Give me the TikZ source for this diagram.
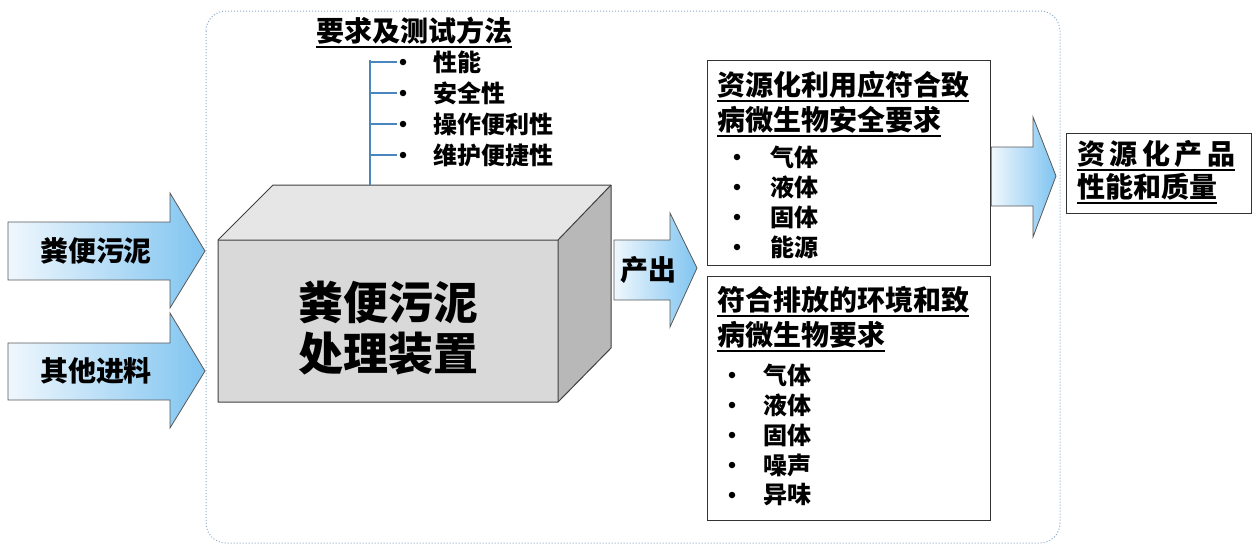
\documentclass[tikz,border=0pt]{standalone}
\usepackage{fontspec}
\setmainfont{Noto Sans CJK SC}
\definecolor{arrowL}{HTML}{F0F7FD}
\definecolor{arrowR}{HTML}{7FC4F0}
\definecolor{framecol}{HTML}{8AA9C6}
\definecolor{treeblue}{HTML}{4A86BE}
\definecolor{frontgray}{HTML}{D9D9D9}
\definecolor{topgray}{HTML}{E6E6E6}
\definecolor{sidegray}{HTML}{B8B8B8}
\newcommand\myul[1]{\setbox0\hbox{#1}\rlap{\rule[-6.5pt]{\wd0}{2pt}}\box0}
\tikzset{
  big/.style={inner sep=0pt, font=\bfseries\fontsize{28}{34}\selectfont},
  itm/.style={inner sep=0pt, anchor=west, font=\bfseries\fontsize{24}{28}\selectfont},
  bul/.style={circle, fill=black, inner sep=0pt, minimum size=6.5pt},
  fatarrow/.style={draw=black!65, line width=0.8pt, left color=arrowL, right color=arrowR},
  outbox/.style={draw=black!80, line width=1.2pt, fill=white},
  cube/.style={draw=black!75, line width=1pt, line join=round},
  branch/.style={draw=treeblue, line width=1.2pt},
}
\begin{document}
\begin{tikzpicture}[x=1pt,y=-1pt]
\useasboundingbox (0,0) rectangle (1254,547);
% outer frame
\draw[framecol, dotted, line width=1pt, rounded corners=20pt] (206,11) rectangle (1060,543);

% input arrows
\draw[fatarrow] (8,222) -- (170,222) -- (170,193) -- (205,251) -- (170,308) -- (170,280) -- (8,280) -- cycle;
\node[big] (in1) at (96,251) {粪便污泥};
\draw[fatarrow] (8,343) -- (170,343) -- (170,313) -- (205,371) -- (170,428) -- (170,400) -- (8,400) -- cycle;
\node[big] (in2) at (96,371) {其他进料};

% cube
\coordinate (fTL) at (218,240);
\coordinate (fTR) at (558,240);
\coordinate (fBR) at (558,402);
\coordinate (fBL) at (218,402);
\coordinate (bTL) at (273,185);
\coordinate (bTR) at (611,185);
\coordinate (bBR) at (611,348);
\fill[topgray] (fTL) -- (bTL) -- (bTR) -- (fTR) -- cycle;
\fill[sidegray] (fTR) -- (bTR) -- (bBR) -- (fBR) -- cycle;
\fill[frontgray] (fTL) rectangle (fBR);
\draw[cube] (fTL) -- (bTL) -- (bTR) -- (bBR) -- (fBR) -- (fBL) -- cycle;
\draw[cube] (fTL) -- (fTR) -- (fBR) (fTR) -- (bTR);
\node[inner sep=0pt, font=\bfseries\fontsize{45}{51}\selectfont, align=center] (dev) at (388,328) {粪便污泥\\处理装置};

% requirements tree
\node[big] (req) at (414,33) {\myul{要求及测试方法}};
\coordinate (treetop) at (370,60);
\coordinate (treebot) at (370,185);
\draw[branch] (treetop) -- (treebot);
\foreach \yy/\txt/\nm in {62/性能/r1, 93/安全性/r2, 124/操作便利性/r3, 155/维护便捷性/r4}{
  \coordinate (b\nm) at (370,\yy);
  \node[bul] (d\nm) at (403,\yy) {};
  \node[itm] (\nm) at (433,\yy) {\txt};
  \draw[branch] (b\nm) -- (397,\yy);
}

% output arrow
\draw[fatarrow] (614,240) -- (670,240) -- (670,213) -- (697,268) -- (670,327) -- (670,300) -- (614,300) -- cycle;
\node[big] (out) at (648,270) {产出};

% box A
\node[outbox, minimum width=283pt, minimum height=205pt, anchor=north west] (boxA) at (707,60) {};
\node[big, anchor=west] (tA1) at (717,87) {\myul{资源化利用应符合致}};
\node[big, anchor=west] (tA2) at (717,122) {\myul{病微生物安全要求}};
\foreach \yy/\txt/\nm in {157/气体/a1, 187/液体/a2, 217/固体/a3, 247/能源/a4}{
  \node[bul] (d\nm) at (737,\yy) {};
  \node[itm] (\nm) at (770,\yy) {\txt};
}

% box B
\node[outbox, minimum width=283pt, minimum height=244pt, anchor=north west] (boxB) at (707,276) {};
\node[big, anchor=west] (tB1) at (717,302) {\myul{符合排放的环境和致}};
\node[big, anchor=west] (tB2) at (717,337) {\myul{病微生物要求}};
\foreach \yy/\txt/\nm in {375/气体/b1, 405/液体/b2, 435/固体/b3, 465/噪声/b4, 495/异味/b5}{
  \node[bul] (d\nm) at (732,\yy) {};
  \node[itm] (\nm) at (763,\yy) {\txt};
}

% right arrow
\draw[fatarrow] (boxA.east |- 0,147) -- (1033,147) -- (1033,117) -- (1056,176) -- (1033,237) -- (1033,206) -- (boxA.east |- 0,206) -- cycle;

% box C
\node[outbox, minimum width=185pt, minimum height=80pt, anchor=north west] (boxC) at (1066,133) {};
\node[big, anchor=west] (tC1) at (1077,156) {\myul{资\hspace{4.5pt}源\hspace{4.5pt}化\hspace{4.5pt}产\hspace{4.5pt}品}};
\node[big, anchor=west] (tC2) at (1077,189) {\myul{性能和质量}};
\end{tikzpicture}
\end{document}
